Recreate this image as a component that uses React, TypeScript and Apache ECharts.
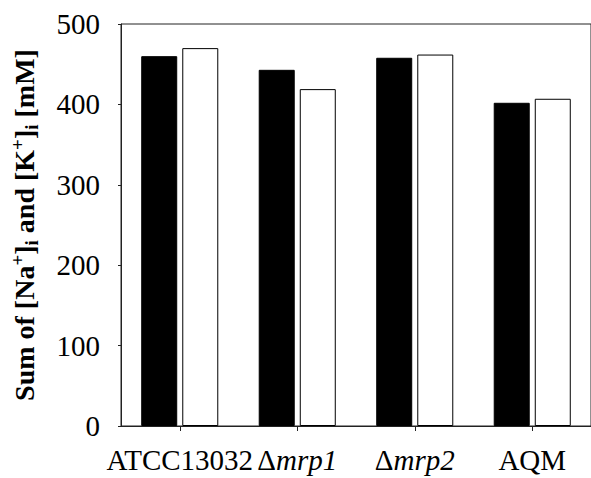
import React, { useEffect, useRef } from "react";
import * as echarts from "echarts";

const categories = ["ATCC13032", "Δmrp1", "Δmrp2", "AQM"];
const blackValues = [460, 443, 458, 402];
const whiteValues = [470, 419, 462, 407];
const yTicks = { min: 0, max: 500, interval: 100 };

export default function App() {
  const ref = useRef<HTMLDivElement>(null);
  useEffect(() => {
    const chart = echarts.init(ref.current!, undefined, { renderer: "svg" });
    const font = "Liberation Serif";
    chart.setOption({
      animation: false,
      grid: {
        left: 121,
        top: 24,
        right: -6,
        bottom: 52,
        show: true,
        borderColor: "#222",
        borderWidth: 1,
        containLabel: false,
      },
      xAxis: {
        type: "category",
        data: categories,
        axisLine: { lineStyle: { color: "#222", width: 1 } },
        axisTick: { show: true, alignWithLabel: true, interval: 0, length: 5, inside: false, lineStyle: { color: "#222" } },
        axisLabel: {
          interval: 0,
          margin: 19,
          color: "#000",
          fontFamily: font,
          fontSize: 29,
          formatter: (v: string) => {
            if (v.startsWith("Δ")) return "{n|Δ}{i|" + v.slice(1) + "}";
            return "{n|" + v + "}";
          },
          rich: {
            n: { fontFamily: font, fontSize: 29, color: "#000" },
            i: { fontFamily: font, fontSize: 29, fontStyle: "italic", color: "#000" },
          },
        },
      },
      yAxis: {
        type: "value",
        min: yTicks.min,
        max: yTicks.max,
        interval: yTicks.interval,
        splitLine: { show: false },
        axisLine: { show: true, lineStyle: { color: "#222", width: 1 } },
        axisTick: { show: true, length: 3, lineStyle: { color: "#222" } },
        axisLabel: { margin: 21, color: "#000", fontFamily: font, fontSize: 29 },
        name: "{b|Sum of [Na}{sup|+}{b|]}{sub|i}{b| and [K}{sup|+}{b|]}{sub|i}{b| [mM]}",
        nameLocation: "middle",
        nameGap: 80,
        nameTextStyle: {
          fontFamily: font,
          fontWeight: "bold",
          fontSize: 28,
          color: "#000",
          rich: {
            b: { fontFamily: font, fontWeight: "bold", fontSize: 28, color: "#000" },
            sup: { fontFamily: font, fontWeight: "bold", fontSize: 19, color: "#000", padding: [0, 0, 14, 0] },
            sub: { fontFamily: font, fontWeight: "bold", fontSize: 19, color: "#000", padding: [14, 0, 0, 0] },
          },
        },
      },
      series: [
        {
          type: "bar",
          data: blackValues,
          barWidth: 36,
          barGap: "14%",
          itemStyle: { color: "#000", borderColor: "#000", borderWidth: 1 },
        },
        {
          type: "bar",
          data: whiteValues,
          barWidth: 36,
          itemStyle: { color: "#fff", borderColor: "#000", borderWidth: 1 },
        },
      ],
    });
    return () => chart.dispose();
  }, []);
  return <div ref={ref} style={{ position: "absolute", left: 0, top: 0, width: 591, height: 478 }} />;
}
